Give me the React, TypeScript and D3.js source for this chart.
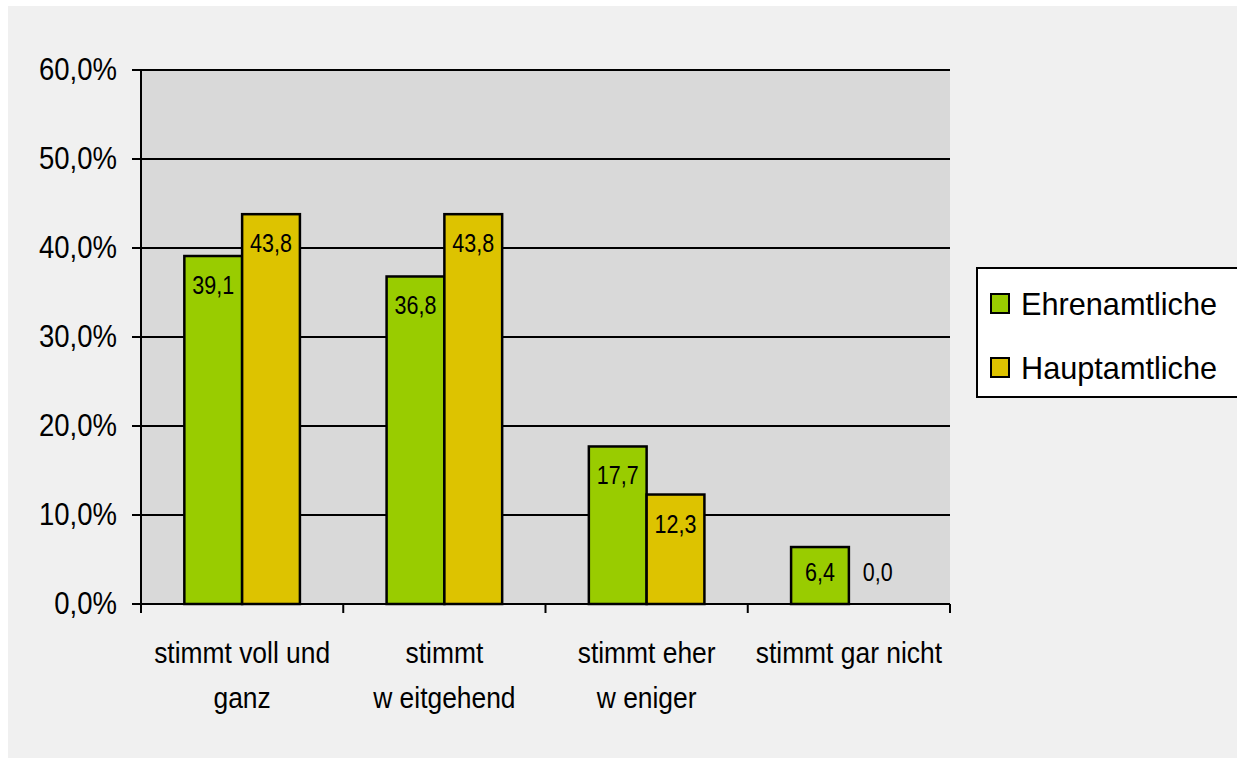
import * as d3 from 'd3';
import React from 'react';

const categories = ['voll', 'weitgehend', 'weniger', 'garnicht'];
const categoryLabels = [
	['stimmt voll und', 'ganz'],
	['stimmt', 'w eitgehend'],
	['stimmt eher', 'w eniger'],
	['stimmt gar nicht'],
];
const seriesNames = ['Ehrenamtliche', 'Hauptamtliche'];
const ehrenamtliche = [39.1, 36.8, 17.7, 6.4];
const hauptamtliche = [43.8, 43.8, 12.3, 0.0];
const yTicks = [0, 10, 20, 30, 40, 50, 60];

const colors = ['#99cc00', '#ddc300'];
const font = '"Liberation Sans", Arial, sans-serif';

const de = d3.formatLocale({ decimal: ',', thousands: '.', grouping: [3], currency: ['', '€'] });
const fmtVal = de.format('.1f');
const fmtTick = (v: number) => de.format('.1f')(v) + '%';

const App = () => {
	const plot = { left: 141, right: 950, top: 70, bottom: 604 };

	const x = d3.scaleBand().domain(categories).range([plot.left, plot.right]);
	const xInner = d3.scaleBand().domain(seriesNames).range([0, x.bandwidth()]).paddingOuter(0.75);
	const y = d3.scaleLinear().domain([0, 60]).range([plot.bottom, plot.top]);

	const values = [ehrenamtliche, hauptamtliche];
	const boundaries = [...categories.map((c) => x(c) as number), plot.right];

	return (
		<svg
			width={1237}
			height={758}
			style={{ position: 'fixed', left: 0, top: 0 }}
			fontFamily={font}
		>
			<rect x={0} y={0} width={1237} height={758} fill="#ffffff" />
			<rect x={8} y={6} width={1229} height={752} fill="#f0f0f0" />

			{/* plot area */}
			<rect x={plot.left} y={plot.top} width={plot.right - plot.left} height={plot.bottom - plot.top} fill="#d9d9d9" />

			{/* gridlines + y ticks */}
			{yTicks.map((t) => (
				<g key={t}>
					<line x1={plot.left - 9} x2={plot.right} y1={y(t)} y2={y(t)} stroke="#000" strokeWidth={2} />
					<text
						transform={`translate(117, ${y(t) + 10}) scale(0.86, 1)`}
						textAnchor="end"
						fontSize={32}
						fill="#000"
					>
						{fmtTick(t)}
					</text>
				</g>
			))}

			{/* bars */}
			{values.map((vals, si) =>
				vals.map((v, ci) => {
					const bx = (x(categories[ci]) as number) + (xInner(seriesNames[si]) as number);
					const bw = xInner.bandwidth();
					const top = y(v);
					const labelY = Math.min(top + 29, plot.bottom - 32);
					return (
						<g key={`${si}-${ci}`}>
							{v > 0 && (
								<rect x={bx} y={top} width={bw} height={plot.bottom - top} fill={colors[si]} stroke="#000" strokeWidth={2.5} />
							)}
							<text
								transform={`translate(${bx + bw / 2}, ${labelY + 9}) scale(0.86, 1)`}
								textAnchor="middle"
								fontSize={25}
								fill="#000"
							>
								{fmtVal(v)}
							</text>
						</g>
					);
				})
			)}

			{/* axes */}
			<line x1={plot.left} x2={plot.left} y1={plot.top} y2={plot.bottom + 9} stroke="#000" strokeWidth={2} />
			<line x1={plot.left} x2={plot.right} y1={plot.bottom} y2={plot.bottom} stroke="#000" strokeWidth={2} />
			{boundaries.map((b, i) => (
				<line key={i} x1={b} x2={b} y1={plot.bottom} y2={plot.bottom + 9} stroke="#000" strokeWidth={2} />
			))}

			{/* category labels */}
			{categories.map((c, i) => (
				<g key={c}>
					{categoryLabels[i].map((line, li) => (
						<text
							key={li}
							transform={`translate(${(x(c) as number) + x.bandwidth() / 2}, ${663 + li * 45}) scale(0.88, 1)`}
							textAnchor="middle"
							fontSize={30}
							fill="#000"
						>
							{line}
						</text>
					))}
				</g>
			))}

			{/* legend */}
			<rect x={977} y={268} width={300} height={129} fill="#ffffff" stroke="#000" strokeWidth={2} />
			{seriesNames.map((s, i) => {
				const cy = 304 + i * 64;
				return (
					<g key={s}>
						<rect x={991} y={cy - 10} width={18} height={19} fill={colors[i]} stroke="#000" strokeWidth={2} />
						<text
							transform={`translate(1021, ${cy + 11}) scale(0.99, 1)`}
							fontSize={31}
							fill="#000"
						>
							{s}
						</text>
					</g>
				);
			})}
		</svg>
	);
};

export default App;
